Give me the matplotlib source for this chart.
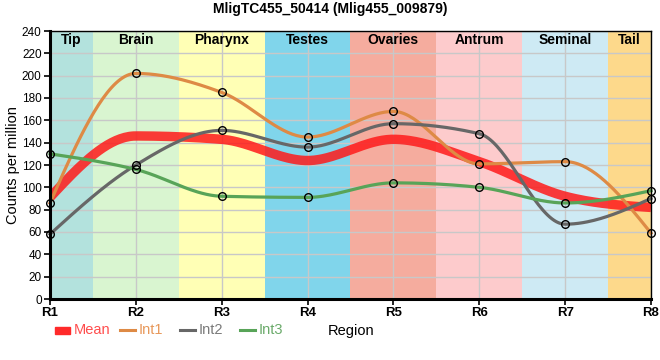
import numpy as np
import matplotlib
matplotlib.use("Agg")
import matplotlib.pyplot as plt
from matplotlib.lines import Line2D
from matplotlib.patches import Rectangle

plt.rcParams['font.family'] = ['Liberation Sans', 'DejaVu Sans']

title = "MligTC455_50414 (Mlig455_009879)"
x_labels = ["R1", "R2", "R3", "R4", "R5", "R6", "R7", "R8"]
regions = ["Tip", "Brain", "Pharynx", "Testes", "Ovaries", "Antrum", "Seminal", "Tail"]
region_colors = ["#b3e2dd", "#d9f5d0", "#ffffb5", "#80d5eb", "#f5ac9e", "#fdcbcc", "#ceeaf4", "#fdd98b"]
# region spans in R-index units
region_starts = [0, 0.5, 1.5, 2.5, 3.5, 4.5, 5.5, 6.5]
region_ends = [0.5, 1.5, 2.5, 3.5, 4.5, 5.5, 6.5, 7]

mean_vals = [91, 146, 143, 124, 143, 123, 92, 82]
int1 = [86, 202, 185, 145, 168, 121, 123, 59]
int2 = [58, 120, 151, 136, 157, 148, 67, 90]
int3 = [130, 116, 92, 91, 104, 100, 86, 97]


def monotone(xs, ys, n=40):
    xs = np.asarray(xs, float); ys = np.asarray(ys, float)
    k = len(xs)
    h = np.diff(xs)
    s = np.diff(ys) / h
    t = np.zeros(k)
    for i in range(1, k - 1):
        s0, s1 = s[i - 1], s[i]
        p = (s0 * h[i] + s1 * h[i - 1]) / (h[i - 1] + h[i])
        t[i] = (np.sign(s0) + np.sign(s1)) * min(abs(s0), abs(s1), 0.5 * abs(p))
    t[0] = (3 * s[0] - t[1]) / 2
    t[-1] = (3 * s[-1] - t[-2]) / 2
    X, Y = [], []
    for i in range(k - 1):
        u = np.linspace(0, 1, n)
        dx = h[i]
        h00 = 2*u**3 - 3*u**2 + 1
        h10 = u**3 - 2*u**2 + u
        h01 = -2*u**3 + 3*u**2
        h11 = u**3 - u**2
        X.append(xs[i] + u * dx)
        Y.append(h00*ys[i] + h10*dx*t[i] + h01*ys[i+1] + h11*dx*t[i+1])
    return np.concatenate(X), np.concatenate(Y)


fig = plt.figure(figsize=(6.6, 3.6), dpi=100)
W, H = 660, 360
ax = fig.add_axes([50/W, 1 - 299/H, (651-50)/W, (299-31)/H])

xs = np.arange(len(x_labels))
for name, c, a, b in zip(regions, region_colors, region_starts, region_ends):
    ax.axvspan(a, b, color=c, lw=0, zorder=0)
    ax.text((a + b) / 2, 232, name, ha='center', va='center', fontsize=10,
            fontweight='bold', zorder=5)

ax.set_xlim(0, 7)
ax.set_ylim(0, 240)
ax.set_yticks(np.arange(0, 241, 20))
ax.set_xticks(xs)
ax.set_xticklabels(x_labels, fontweight='bold', fontsize=9.5)
ax.tick_params(axis='y', labelsize=8.5, length=4, width=1.2, pad=2)
ax.tick_params(axis='x', length=4, width=1.2, pad=2)
ax.grid(True, color='#c8c8c8', lw=1, zorder=1)
ax.set_axisbelow(False)
for gl in ax.get_xgridlines() + ax.get_ygridlines():
    gl.set_zorder(1)

mx, my = monotone(xs, mean_vals)
ax.plot(mx, my, color='#ff1a1a', lw=6.8, alpha=0.85, zorder=3, solid_capstyle='butt')

series = [(int1, '#de8a45'), (int2, '#676767'), (int3, '#58a458')]
for vals, c in series:
    sx, sy = monotone(xs, vals)
    ax.plot(sx, sy, color=c, lw=2.3, zorder=4, clip_on=False)
    ax.plot(xs, vals, 'o', ms=5.5, mfc='none', mec='black', mew=1.0, zorder=6, clip_on=False)

for side in ['left', 'bottom']:
    ax.spines[side].set_linewidth(2.2)
for side in ['top', 'right']:
    ax.spines[side].set_linewidth(1.0)
for sp in ax.spines.values():
    sp.set_zorder(7)

ax.set_ylabel("Counts per million", fontsize=10.5)
ax.yaxis.set_label_coords(-30/601, 0.5)
fig.text(0.5, 1 - 9/H, title, ha='center', va='center', fontsize=10, fontweight='bold')

# legend
def fx(p): return p / W
def fy(p): return 1 - p / H
ly = 330
fig.add_artist(Rectangle((fx(55), fy(334)), fx(15), 7/H, color='#ff2a2a', transform=fig.transFigure))
fig.text(fx(74), fy(ly), "Mean", color='#ff4d4d', fontsize=10.5, va='center', ha='left')
leg = [("Int1", '#de8a45', '#e8985a', 120), ("Int2", '#676767', '#7a7a7a', 180), ("Int3", '#58a458', '#6aaa6a', 240)]
for lab, c, tc, x0 in leg:
    fig.add_artist(Line2D([fx(x0), fx(x0 + 15)], [fy(ly), fy(ly)], color=c, lw=2.2, transform=fig.transFigure))
    fig.text(fx(x0 + 19), fy(ly), lab, color=tc, fontsize=10.5, va='center', ha='left')
fig.text(fx(351), fy(331), "Region", fontsize=10.5, va='center', ha='center')

fig.savefig("out.png", dpi=100)
